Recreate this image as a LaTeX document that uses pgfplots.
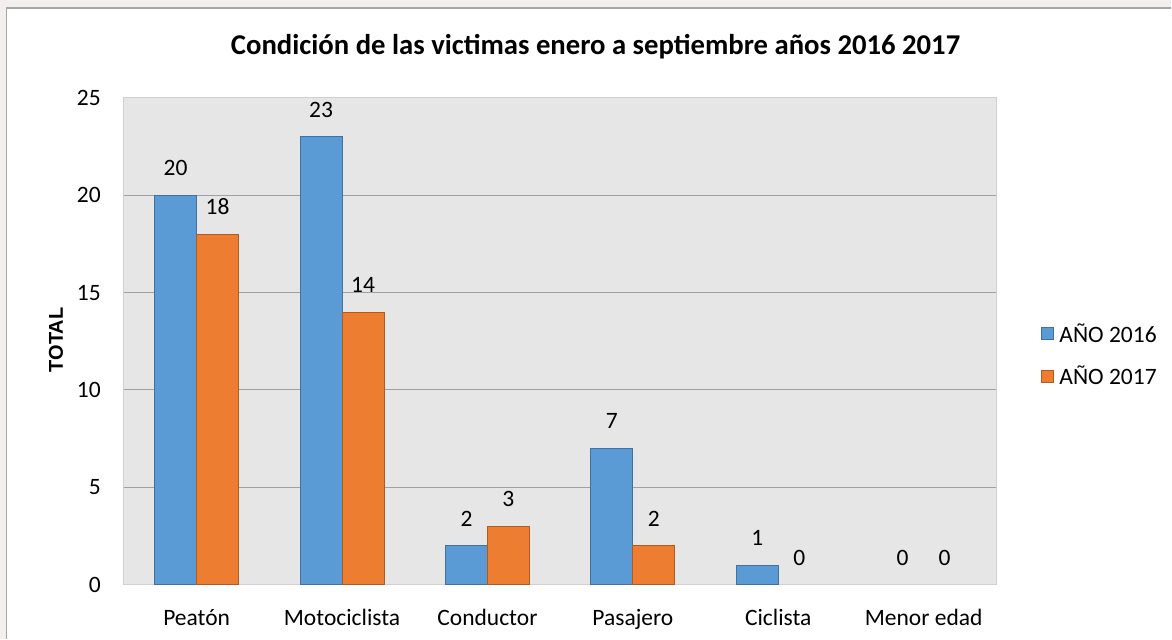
\documentclass[border=0pt]{standalone}
\usepackage{pgfplots}
\pgfplotsset{compat=1.18}
\usepackage{fontspec}
\setmainfont{Carlito}
\newfontfamily\arialfont{Liberation Sans}
\definecolor{bgout}{HTML}{F3EFEF}
\definecolor{framegray}{HTML}{A6A6A6}
\definecolor{plotbg}{HTML}{E6E6E6}
\definecolor{gridgray}{HTML}{A0A0A0}
\definecolor{bordergray}{HTML}{D0D0D0}
\definecolor{cblue}{HTML}{5B9BD5}
\definecolor{cblueline}{HTML}{41719C}
\definecolor{corange}{HTML}{ED7D31}
\definecolor{corangeline}{HTML}{AE5A21}
\begin{document}
\begin{tikzpicture}[x=1pt,y=1pt]
\fill[bgout] (0,0) rectangle (1172,639);
\fill[white] (6.5,0) rectangle (1172,631);
\draw[framegray, line width=1.5pt] (6.5,0) -- (6.5,631) -- (1172,631);
\useasboundingbox (0,0) rectangle (1172,639);
\node[font=\fontsize{28.7}{34}\selectfont\bfseries] at (596,592) {Condición de las victimas enero a septiembre años 2016 2017};
\node[font=\arialfont\bfseries\fontsize{20}{24}\selectfont, rotate=90] at (56,299) {TOTAL};
\begin{axis}[
  at={(124pt,54pt)}, anchor=south west,
  scale only axis, width=873pt, height=487pt,
  ybar, bar width=42pt,
  ymin=0, ymax=25, xmin=-0.5, xmax=5.5,
  ytick={0,5,...,25},
  xtick={0,1,2,3,4,5},
  xticklabels={Peatón,Motociclista,Conductor,Pasajero,Ciclista,Menor edad},
  axis background/.style={fill=plotbg},
  ymajorgrids, grid style={draw=gridgray, line width=1pt},
  axis line style={draw=bordergray, line width=1pt},
  tick style={draw=none},
  ticklabel style={font=\fontsize{23.5}{28}\selectfont},
  /pgf/number format/assume math mode=true,
  yticklabel style={anchor=east, inner sep=0pt, xshift=-23pt},
  xticklabel style={anchor=base, inner sep=0pt, yshift=-37pt},
  nodes near coords,
  every node near coord/.append style={font=\fontsize{23.5}{28}\selectfont, anchor=south, inner sep=0pt, yshift=19pt, text=black},
  legend style={at={(1.0505,0.472)}, anchor=west, draw=none, fill=none,
    font=\fontsize{23.5}{28}\selectfont, row sep=22pt, column sep=6pt, inner sep=0pt,
    nodes={inner sep=0pt}},
  legend cell align=left,
  legend image code/.code={\draw[#1] (0pt,-6pt) rectangle (12pt,6pt);},
]
\addplot[bar shift=-21pt, fill=cblue, draw=cblueline, line width=0.8pt] coordinates {(0,20) (1,23) (2,2) (3,7) (4,1)};
\addplot[bar shift=21pt, fill=corange, draw=corangeline, line width=0.8pt] coordinates {(0,18) (1,14) (2,3) (3,2)};
\addplot[bar shift=-21pt, draw=none, fill=none, forget plot] coordinates {(5,0)};
\addplot[bar shift=21pt, draw=none, fill=none, forget plot] coordinates {(4,0) (5,0)};
\legend{AÑO 2016, AÑO 2017}
\end{axis}
\end{tikzpicture}
\end{document}
